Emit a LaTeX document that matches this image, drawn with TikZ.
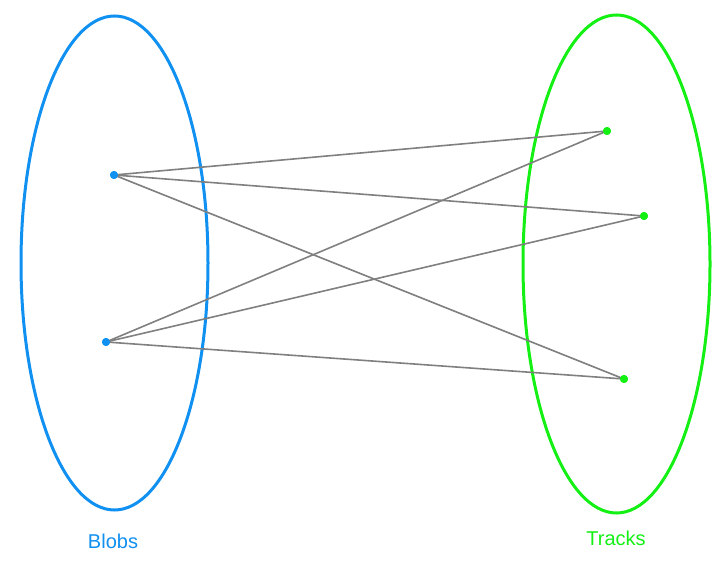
\documentclass[tikz,border=0pt]{standalone}
\usepackage{fontspec}
\setmainfont{Liberation Sans}
\definecolor{blobblue}{RGB}{16,144,240}
\definecolor{trackgreen}{RGB}{20,240,20}
\definecolor{edgegray}{RGB}{128,128,128}
\begin{document}
\begin{tikzpicture}[x=1pt,y=1pt,
  set/.style={line width=3pt},
  bdot/.style={circle,fill=blobblue,inner sep=0pt,minimum size=8pt},
  gdot/.style={circle,fill=trackgreen,inner sep=0pt,minimum size=8pt},
  edge/.style={edgegray,line width=1.6pt},
  lbl/.style={font=\fontsize{20}{24}\selectfont,inner sep=0pt}]
\useasboundingbox (0,0) rectangle (723,562);
\draw[set,blobblue] (114.5,299) ellipse [x radius=93.5,y radius=247];
\draw[set,trackgreen] (616.5,298) ellipse [x radius=93.5,y radius=249];
\node[bdot] (b1) at (114,387) {};
\node[bdot] (b2) at (106,220) {};
\node[gdot] (t1) at (607,431) {};
\node[gdot] (t2) at (644,346) {};
\node[gdot] (t3) at (624,183) {};
\draw[edge] (b1.center) -- (t1.center);
\draw[edge] (b1.center) -- (t2.center);
\draw[edge] (b1.center) -- (t3.center);
\draw[edge] (b2.center) -- (t1.center);
\draw[edge] (b2.center) -- (t2.center);
\draw[edge] (b2.center) -- (t3.center);
\node[bdot] at (b1) {};
\node[bdot] at (b2) {};
\node[gdot] at (t1) {};
\node[gdot] at (t2) {};
\node[gdot] at (t3) {};
\node[lbl,text=blobblue] (lb) at (113,21) {Blobs};
\node[lbl,text=trackgreen] (lt) at (616,24) {Tracks};
\end{tikzpicture}
\end{document}
